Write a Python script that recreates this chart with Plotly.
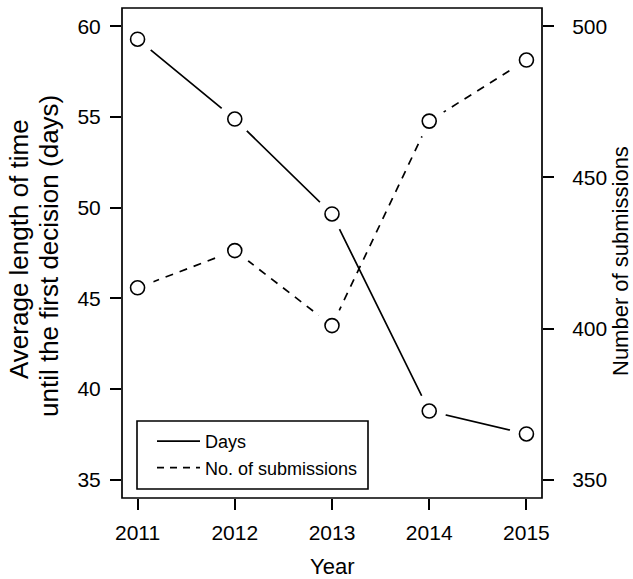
import plotly.graph_objects as go

years = [2011, 2012, 2013, 2014, 2015]
days = [59.28, 54.88, 49.65, 38.79, 37.53]
submissions = [413.5, 425.8, 401.0, 468.6, 488.8]

x_ticks = [2011, 2012, 2013, 2014, 2015]
y_ticks = [35, 40, 45, 50, 55, 60]
y2_ticks = [350, 400, 450, 500]

FONT = "Liberation Sans, Arial, sans-serif"
W, H = 633, 579
L, R, T, B = 122, 91, 8, 81
PW, PH = W - L - R, H - T - B


def px_x(p):
    return (p - L) / PW


def px_y(p):
    return (H - B - p) / PH


fig = go.Figure()

line_style = dict(color="black", width=1.7)
# connecting lines
fig.add_trace(go.Scatter(x=years, y=days, mode="lines", line=line_style,
                         showlegend=False, yaxis="y"))
fig.add_trace(go.Scatter(x=years, y=submissions, mode="lines",
                         line=dict(color="black", width=1.7, dash="8px,7px"),
                         showlegend=False, yaxis="y2"))
# white masks to make gaps around points (R type="b")
for ys, ax in ((days, "y"), (submissions, "y2")):
    fig.add_trace(go.Scatter(x=years, y=ys, mode="markers", yaxis=ax,
                             marker=dict(size=34, color="white", line=dict(width=0)),
                             showlegend=False, hoverinfo="skip"))
# open circles
for ys, ax in ((days, "y"), (submissions, "y2")):
    fig.add_trace(go.Scatter(x=years, y=ys, mode="markers", yaxis=ax,
                             marker=dict(size=14, color="white", symbol="circle",
                                         line=dict(width=1.6, color="black")),
                             showlegend=False))
# legend entries
fig.add_trace(go.Scatter(x=[None], y=[None], mode="lines", name="Days",
                         line=line_style, showlegend=True))
fig.add_trace(go.Scatter(x=[None], y=[None], mode="lines", name="No. of submissions",
                         line=dict(color="black", width=1.7, dash="7px,6px"),
                         showlegend=True))

tick_font = dict(family=FONT, size=21, color="black")
fig.update_layout(
    width=W, height=H,
    margin=dict(l=L, r=R, t=T, b=B, pad=0),
    paper_bgcolor="white", plot_bgcolor="white",
    font=dict(family=FONT, color="black"),
    xaxis=dict(range=[2010.84, 2015.16], tickvals=x_ticks, ticktext=[str(v) for v in x_ticks],
               ticks="outside", ticklen=11, tickwidth=1.5, tickcolor="black",
               showgrid=False, zeroline=False, showline=False, tickfont=tick_font,
               ticklabelstandoff=5),
    yaxis=dict(range=[34, 61], tickvals=y_ticks, ticks="outside", ticklen=11,
               tickwidth=1.5, tickcolor="black", showgrid=False, zeroline=False,
               showline=False, tickfont=tick_font, ticklabelstandoff=5),
    yaxis2=dict(range=[344, 506], tickvals=y2_ticks, ticks="outside", ticklen=11,
                tickwidth=1.5, tickcolor="black", showgrid=False, zeroline=False,
                showline=False, tickfont=tick_font, overlaying="y", side="right",
                anchor="x", ticklabelstandoff=14),
    legend=dict(x=px_x(152), y=px_y(423), xanchor="left", yanchor="top",
                bgcolor="rgba(0,0,0,0)", borderwidth=0, itemwidth=43,
                font=dict(family=FONT, size=18, color="black")),
    shapes=[
        dict(type="rect", xref="paper", yref="paper", x0=0, x1=1, y0=0, y1=1,
             line=dict(color="black", width=1.7), layer="above"),
        dict(type="rect", xref="paper", yref="paper",
             x0=px_x(137), x1=px_x(368), y0=px_y(489), y1=px_y(421),
             line=dict(color="black", width=1.6), layer="above"),
    ],
    annotations=[
        dict(text="Year", xref="paper", yref="paper", x=0.5, y=px_y(566),
             xanchor="center", yanchor="middle", showarrow=False,
             font=dict(family=FONT, size=22, color="black")),
        dict(text="Average length of time", xref="paper", yref="paper",
             x=px_x(19), y=px_y(249), textangle=-90, xanchor="center", yanchor="middle",
             showarrow=False, font=dict(family=FONT, size=26, color="black")),
        dict(text="until the first decision (days)", xref="paper", yref="paper",
             x=px_x(49), y=px_y(256), textangle=-90, xanchor="center", yanchor="middle",
             showarrow=False, font=dict(family=FONT, size=26, color="black")),
        dict(text="Number of submissions", xref="paper", yref="paper",
             x=px_x(620), y=px_y(261), textangle=-90, xanchor="center", yanchor="middle",
             showarrow=False, font=dict(family=FONT, size=22, color="black")),
    ],
)

fig.write_html("out.html", config={"displayModeBar": False},
               post_script="document.body.style.margin='0px';document.body.style.padding='0px';")
